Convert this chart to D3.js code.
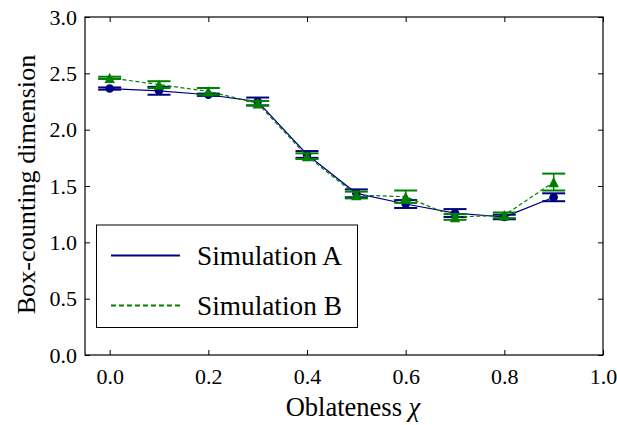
<!DOCTYPE html>
<html>
<head>
<meta charset="utf-8">
<script src="https://cdn.jsdelivr.net/npm/d3@7/dist/d3.min.js"></script>
<style>
  html, body { margin: 0; padding: 0; background: #fff; }
  svg { display: block; font-family: "Liberation Serif", "Times New Roman", serif; }
</style>
</head>
<body>
<svg id="chart" width="617" height="425"></svg>
<script>
const xValues = [0.0, 0.1, 0.2, 0.3, 0.4, 0.5, 0.6, 0.7, 0.8, 0.9];
const simAValues = [2.365, 2.345, 2.31, 2.25, 1.78, 1.435, 1.34, 1.26, 1.225, 1.40];
const simAErrors = [0.01, 0.035, 0.01, 0.035, 0.03, 0.035, 0.035, 0.035, 0.02, 0.035];
const simBValues = [2.46, 2.40, 2.34, 2.235, 1.765, 1.42, 1.405, 1.225, 1.24, 1.535];
const simBErrors = [0.01, 0.03, 0.03, 0.02, 0.025, 0.03, 0.055, 0.025, 0.025, 0.075];
const xTicks = [0.0, 0.2, 0.4, 0.6, 0.8, 1.0];
const yTicks = [0.0, 0.5, 1.0, 1.5, 2.0, 2.5, 3.0];
const seriesNames = ["Simulation A", "Simulation B"];
const xLabel = "Oblateness ";
const yLabel = "Box-counting dimension";

const svg = d3.select("#chart");
const L = 85, R = 603, T = 17, B = 355;
const x = d3.scaleLinear().domain([-0.05, 1.0]).range([L, R]);
const y = d3.scaleLinear().domain([0, 3.0]).range([B, T]);

const navy = "#000080", green = "#008000";

const fmt = d3.format(".1f");
const gB = svg.append("g").attr("transform", `translate(0,${B})`)
  .call(d3.axisBottom(x).tickValues(xTicks).tickFormat(fmt).tickSizeInner(-5).tickSizeOuter(0).tickPadding(13));
const gT = svg.append("g").attr("transform", `translate(0,${T})`)
  .call(d3.axisTop(x).tickValues(xTicks).tickFormat("").tickSizeInner(-5).tickSizeOuter(0));
const gL = svg.append("g").attr("transform", `translate(${L},0)`)
  .call(d3.axisLeft(y).tickValues(yTicks).tickFormat(fmt).tickSizeInner(-5).tickSizeOuter(0).tickPadding(8));
const gR = svg.append("g").attr("transform", `translate(${R},0)`)
  .call(d3.axisRight(y).tickValues(yTicks).tickFormat("").tickSizeInner(-5).tickSizeOuter(0));
[gB, gT, gL, gR].forEach(g => {
  g.select(".domain").remove();
  g.selectAll("line").attr("stroke", "#000").attr("stroke-width", 1);
  g.selectAll("text").attr("font-family", "Liberation Serif").attr("font-size", 22).attr("fill", "#000");
});
gB.selectAll("text").attr("dy", "0.71em");

svg.append("rect").attr("x", L).attr("y", T).attr("width", R - L).attr("height", B - T)
  .attr("fill", "none").attr("stroke", "#000").attr("stroke-width", 1.2);

function drawSeries(vals, errs, color, dash, marker) {
  const data = xValues.map((xv, i) => ({ x: xv, v: vals[i], e: errs[i] }));
  const line = d3.line().x(d => x(d.x)).y(d => y(d.v));
  svg.append("path").datum(data).attr("d", line).attr("fill", "none")
    .attr("stroke", color).attr("stroke-width", 1.2).attr("stroke-dasharray", dash);
  const g = svg.append("g");
  const eb = g.selectAll("g.eb").data(data).enter().append("g");
  eb.append("line").attr("x1", d => x(d.x)).attr("x2", d => x(d.x))
    .attr("y1", d => y(d.v - d.e)).attr("y2", d => y(d.v + d.e))
    .attr("stroke", color).attr("stroke-width", 1.5);
  [-1, 1].forEach(s => {
    eb.append("line").attr("x1", d => x(d.x) - 11.5).attr("x2", d => x(d.x) + 11.5)
      .attr("y1", d => y(d.v + s * d.e)).attr("y2", d => y(d.v + s * d.e))
      .attr("stroke", color).attr("stroke-width", 2);
  });
  if (marker === "circle") {
    g.selectAll("circle").data(data).enter().append("circle")
      .attr("cx", d => x(d.x)).attr("cy", d => y(d.v)).attr("r", 4.3).attr("fill", color);
  } else {
    g.selectAll("path.tri").data(data).enter().append("path")
      .attr("d", d => {
        const cx = x(d.x), cy = y(d.v), r = 5.2;
        return `M${cx},${cy - r}L${cx - r},${cy + r}L${cx + r},${cy + r}Z`;
      }).attr("fill", color);
  }
}
drawSeries(simAValues, simAErrors, navy, null, "circle");
drawSeries(simBValues, simBErrors, green, "4,2.5", "triangle");

// legend
const lg = svg.append("g");
lg.append("rect").attr("x", 96.5).attr("y", 225).attr("width", 261).attr("height", 102.5)
  .attr("fill", "#fff").attr("stroke", "#000").attr("stroke-width", 1);
const legendItems = [
  { name: seriesNames[0], color: navy, dash: null, yy: 255.5 },
  { name: seriesNames[1], color: green, dash: "5,3", yy: 305.5 }
];
legendItems.forEach(it => {
  lg.append("line").attr("x1", 111).attr("x2", 180).attr("y1", it.yy).attr("y2", it.yy)
    .attr("stroke", it.color).attr("stroke-width", 2.2).attr("stroke-dasharray", it.dash);
  lg.append("text").attr("x", 197).attr("y", it.yy + 9.5).attr("font-size", 27.3)
    .attr("font-family", "Liberation Serif").attr("fill", "#000").text(it.name);
});

// axis labels
const xl = svg.append("text").attr("x", (L + R) / 2 + 9).attr("y", 416).attr("text-anchor", "middle")
  .attr("font-size", 26.5).attr("font-family", "Liberation Serif").attr("fill", "#000");
xl.append("tspan").text(xLabel);
xl.append("tspan").attr("font-style", "italic").text("χ");

svg.append("text").attr("transform", `translate(35,${(T + B) / 2 - 1.5}) rotate(-90)`)
  .attr("text-anchor", "middle").attr("font-size", 26.2).attr("font-family", "Liberation Serif")
  .attr("fill", "#000").text(yLabel);
</script>
</body>
</html>
